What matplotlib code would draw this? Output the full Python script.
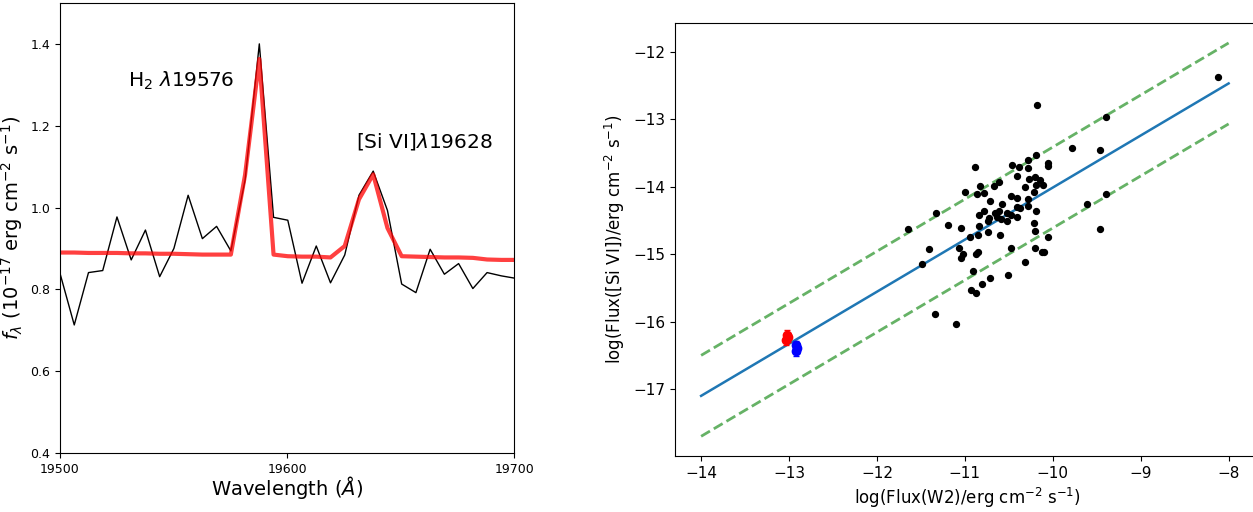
import numpy as np
import matplotlib
matplotlib.use("Agg")
import matplotlib.pyplot as plt

# spectrum (left panel)
wave_start = 19500.0
wave_step = 6.27
flux_obs = [0.839, 0.713, 0.841, 0.846, 0.977, 0.872, 0.945, 0.831, 0.900, 1.030,
            0.924, 0.954, 0.894, 1.067, 1.400, 0.976, 0.969, 0.815, 0.906, 0.816,
            0.884, 1.030, 1.089, 0.993, 0.813, 0.792, 0.898, 0.837, 0.863, 0.802,
            0.841, 0.833, 0.827]
flux_model = [0.890, 0.890, 0.889, 0.889, 0.889, 0.888, 0.888, 0.887, 0.887, 0.886,
              0.885, 0.885, 0.885, 1.080, 1.363, 0.885, 0.881, 0.880, 0.880, 0.878,
              0.906, 1.020, 1.081, 0.950, 0.881, 0.880, 0.879, 0.878, 0.878, 0.877,
              0.873, 0.872, 0.872]
wave = wave_start + wave_step * np.arange(len(flux_obs))

# correlation (right panel)
logW2 = [-8.12, -10.18, -9.39, -9.78, -9.46, -10.19, -10.28, -10.06, -10.06, -10.46,
         -10.38, -10.89, -10.28, -10.41, -10.20, -10.27, -10.14, -10.61, -10.19, -10.11,
         -10.67, -10.32, -10.83, -10.21, -11.00, -10.86, -10.78, -9.39, -10.48, -10.41,
         -10.28, -10.71, -10.58, -9.61, -10.28, -10.41, -10.37, -10.19, -10.78, -10.61,
         -11.33, -10.66, -10.52, -10.48, -10.84, -10.41, -10.72, -10.64, -10.59, -10.52,
         -10.74, -10.21, -11.19, -10.84, -11.04, -11.65, -9.46, -10.20, -10.74, -10.85,
         -10.60, -10.94, -10.06, -11.07, -11.41, -10.20, -10.48, -10.85, -10.87, -10.12,
         -10.10, -11.02, -11.04, -11.49, -10.32, -10.91, -10.51, -10.71, -10.81, -10.93,
         -10.87, -11.34, -11.10]
logSiVI = [-12.37, -12.79, -12.96, -13.43, -13.46, -13.53, -13.60, -13.64, -13.69, -13.67,
           -13.70, -13.70, -13.72, -13.84, -13.86, -13.88, -13.90, -13.92, -13.97, -13.97,
           -13.98, -14.00, -13.99, -14.08, -14.08, -14.10, -14.09, -14.11, -14.14, -14.17,
           -14.18, -14.21, -14.25, -14.25, -14.28, -14.30, -14.31, -14.35, -14.35, -14.36,
           -14.38, -14.39, -14.38, -14.41, -14.42, -14.45, -14.46, -14.45, -14.48, -14.50,
           -14.51, -14.54, -14.56, -14.58, -14.61, -14.63, -14.62, -14.66, -14.67, -14.72,
           -14.72, -14.75, -14.75, -14.91, -14.92, -14.91, -14.91, -14.96, -15.00, -14.96,
           -14.96, -15.00, -15.05, -15.15, -15.11, -15.25, -15.30, -15.35, -15.44, -15.53,
           -15.57, -15.89, -16.04]
red_x = [-13.02, -13.01, -13.03]
red_y = [-16.19, -16.23, -16.27]
blue_x = [-12.92, -12.91, -12.92]
blue_y = [-16.35, -16.39, -16.43]
pt_err = 0.07
fit_slope = 0.772
fit_icpt = -6.29
scatter_dex = 0.6
fit_x = np.array([-14.0, -8.0])

fig = plt.figure(figsize=(12.53, 5.12), dpi=100)

ax1 = fig.add_axes([0.0479, 0.1152, 0.3624, 0.879])
ax1.plot(wave, flux_obs, color='k', lw=1)
ax1.plot(wave, flux_model, color='r', lw=3, alpha=0.75)
ax1.set_xlim(19500, 19700)
ax1.set_ylim(0.4, 1.5)
ax1.set_xticks([19500, 19600, 19700])
ax1.set_yticks([0.4, 0.6, 0.8, 1.0, 1.2, 1.4])
ax1.tick_params(labelsize=9)
ax1.text(19530, 1.296, r'H$_2$ $\lambda$19576', fontsize=14.5)
ax1.text(19630.4, 1.146, r'[Si VI]$\lambda$19628', fontsize=14.5)
ax1.set_xlabel(r'Wavelength ($\AA$)', fontsize=14, labelpad=-1)
ax1.set_ylabel(r'$f_\lambda$ (10$^{-17}$ erg cm$^{-2}$ s$^{-1}$)', fontsize=14)

ax2 = fig.add_axes([0.5385, 0.1094, 0.468, 0.8451])
ax2.plot(fit_x, fit_slope * fit_x + fit_icpt, color='tab:blue', lw=1.8)
ax2.plot(fit_x, fit_slope * fit_x + fit_icpt + scatter_dex, '--', color='g', alpha=0.6, lw=2)
ax2.plot(fit_x, fit_slope * fit_x + fit_icpt - scatter_dex, '--', color='g', alpha=0.6, lw=2)
ax2.scatter(logW2, logSiVI, s=18, color='k', zorder=3)
ax2.errorbar(red_x, red_y, yerr=pt_err, fmt='o', color='r', ms=6, capsize=2, zorder=4)
ax2.errorbar(blue_x, blue_y, yerr=pt_err, fmt='o', color='b', ms=6, capsize=2, zorder=4)
ax2.set_xlim(-14.3, -7.63)
ax2.set_xticks([-14, -13, -12, -11, -10, -9, -8])
ax2.set_yticks([-17, -16, -15, -14, -13, -12])
ax2.tick_params(labelsize=11)
ax2.set_xlabel(r'log(Flux(W2)/erg cm$^{-2}$ s$^{-1}$)', fontsize=12)
ax2.set_ylabel(r'log(Flux([Si VI])/erg cm$^{-2}$ s$^{-1}$)', fontsize=12)

fig.savefig('out.png', dpi=100)
